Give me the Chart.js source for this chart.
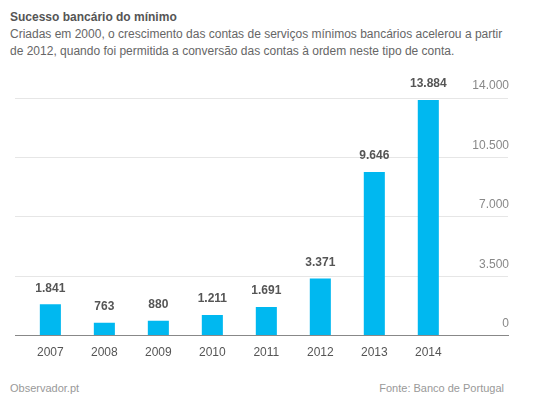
<!DOCTYPE html>
<html>
<head>
<meta charset="utf-8">
<script src="https://cdn.jsdelivr.net/npm/chart.js@4/dist/chart.umd.min.js"></script>
<style>
  html, body { margin: 0; padding: 0; background: #fff; }
  body { width: 560px; height: 406px; position: relative; overflow: hidden; font-family: "Liberation Sans", Arial, sans-serif; }
  .head { position: absolute; left: 10px; top: 9px; width: 545px; font-size: 12px; line-height: 17px; color: #666; }
  .head b { color: #555; }
  .foot { position: absolute; top: 382px; font-size: 11px; color: #999; }
  #wrap { position: absolute; left: 0; top: 60px; width: 560px; height: 310px; }
</style>
</head>
<body>
<div class="head"><b>Sucesso bancário do mínimo</b><br>Criadas em 2000, o crescimento das contas de serviços mínimos bancários acelerou a partir<br>de 2012, quando foi permitida a conversão das contas à ordem neste tipo de conta.</div>
<div id="wrap"><canvas id="chart"></canvas></div>
<div class="foot" style="left:10px">Observador.pt</div>
<div class="foot" style="right:56px">Fonte: Banco de Portugal</div>
<script>
// Contas de serviços mínimos bancários por ano
const years = [2007, 2008, 2009, 2010, 2011, 2012, 2013, 2014];
const accounts = [1841, 763, 880, 1211, 1691, 3371, 9646, 13884];
const yTicks = [0, 3500, 7000, 10500, 14000];

function fmt(n) {
    return String(n).replace(/\B(?=(\d{3})+(?!\d))/g, '.');
}

const valueLabels = {
    id: 'valueLabels',
    afterDatasetsDraw: function (chart) {
        const ctx = chart.ctx;
        const meta = chart.getDatasetMeta(0);
        ctx.save();
        ctx.font = 'bold 12px "Liberation Sans", Arial, sans-serif';
        ctx.fillStyle = '#555';
        ctx.textAlign = 'center';
        ctx.textBaseline = 'bottom';
        meta.data.forEach(function (bar, i) {
            ctx.fillText(fmt(accounts[i]), bar.x, bar.y - 10);
        });
        ctx.restore();
    }
};

new Chart(document.getElementById('chart'), {
    type: 'bar',
    data: {
        datasets: [{
            data: years.map(function (y, i) { return { x: y, y: accounts[i] }; }),
            backgroundColor: '#00B8F0',
            borderWidth: 0,
            barPercentage: 0.39,
            categoryPercentage: 1
        }]
    },
    options: {
        responsive: true,
        maintainAspectRatio: false,
        animation: false,
        layout: { padding: { left: 15, right: 50, top: 38, bottom: 0 } },
        plugins: { legend: { display: false }, tooltip: { enabled: false } },
        scales: {
            x: {
                type: 'linear',
                offset: false,
                min: 2006.345,
                max: 2015.476,
                grid: { display: false, drawTicks: false },
                border: { color: '#888', width: 1 },
                ticks: {
                    stepSize: 1,
                    includeBounds: false,
                    autoSkip: false,
                    maxRotation: 0,
                    padding: 10,
                    color: '#555',
                    font: { family: '"Liberation Sans", Arial, sans-serif', size: 12 },
                    callback: function (v) { return v >= 2007 && v <= 2014 ? String(v) : ''; }
                }
            },
            y: {
                position: 'right',
                min: 0,
                max: 14000,
                afterBuildTicks: function (scale) {
                    scale.ticks = yTicks.map(function (v) { return { value: v }; });
                },
                grid: { color: '#e6e6e6', drawTicks: false },
                border: { display: false },
                ticks: {
                    mirror: true,
                    padding: 1,
                    labelOffset: -12,
                    color: '#888',
                    font: { family: '"Liberation Sans", Arial, sans-serif', size: 12 },
                    callback: function (v) { return fmt(v); }
                }
            }
        }
    },
    plugins: [valueLabels]
});
</script>
</body>
</html>
